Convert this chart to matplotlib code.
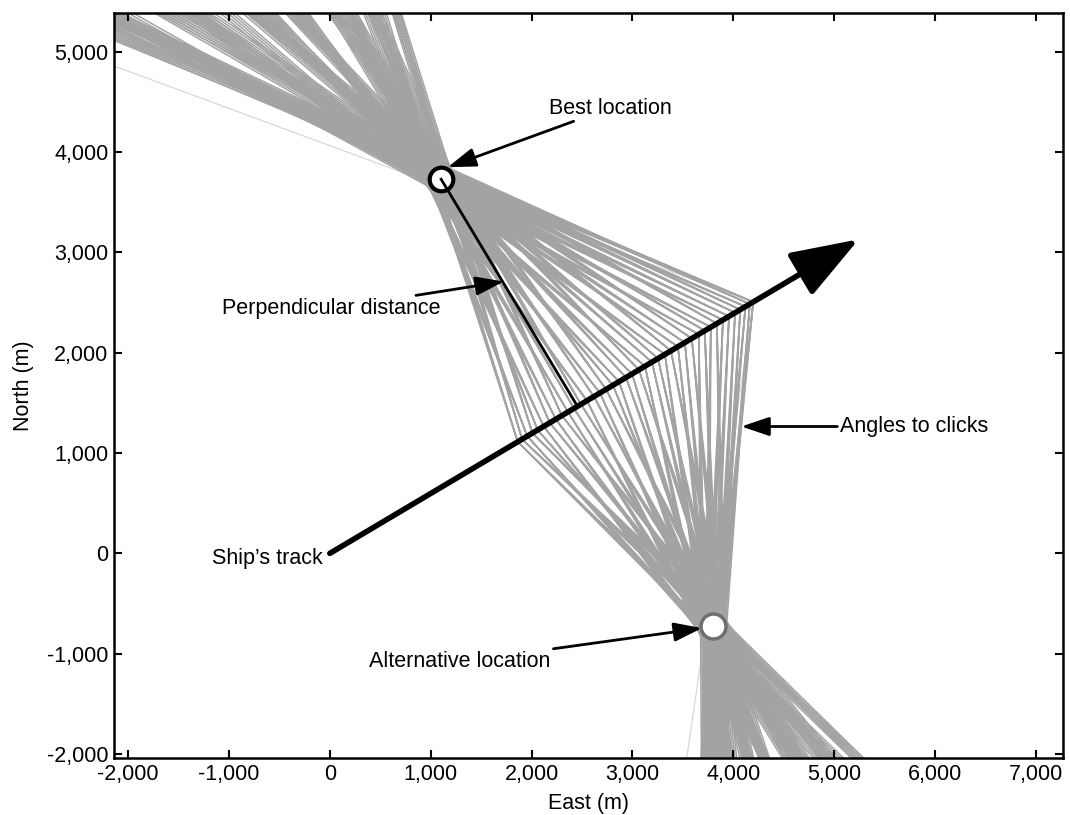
import numpy as np
import matplotlib.pyplot as plt
from matplotlib.ticker import FuncFormatter

plt.rcParams['font.family'] = ['Liberation Sans', 'DejaVu Sans']

# ---------------------------------------------------------------------------
# Data (metres)
# ---------------------------------------------------------------------------
track_start = (0, 0)
track_end = (5244, 3131)
best_loc = (1104, 3730)
alt_loc = (3800, -728)

# along-track distance of each click detection
click_s = [2170, 2220, 2280, 2340, 2400, 2470, 2540, 2610, 2680, 2750,
           2820, 2900, 2970, 3050, 3120, 3190, 3270, 3340, 3420, 3490,
           3570, 3640, 3720, 3790, 3870, 3940, 4020, 4100, 4180, 4260,
           4330, 4400, 4470, 4540, 4610, 4680, 4740, 4800, 4850, 4890]
# bearing miss distance at the location (m)
click_miss = [60, -40, 100, -90, 20, 120, -30, 50, -110, 80,
              0, -70, 130, -40, 70, -120, 20, 100, -20, 40,
              -90, 110, 0, -50, 90, -110, 40, 10, -70, 100,
              -30, 60, -100, 30, -10, -60, -90, -40, -110, -70]
bundle_offsets = [-24, -12, 0, 12, 24]

# one stray bearing
stray_s = 4890
stray_miss = 70

# ---------------------------------------------------------------------------
# Geometry
# ---------------------------------------------------------------------------
t0 = np.array(track_start, float)
t1 = np.array(track_end, float)
u = (t1 - t0) / np.linalg.norm(t1 - t0)


def bearing_line(s, target, miss, length=4.0):
    p = t0 + s * u
    tgt = np.array(target, float)
    d = tgt - p
    d /= np.linalg.norm(d)
    perp = np.array([-d[1], d[0]])
    aim = tgt + miss * perp
    end = p + (aim - p) * length
    return [p[0], end[0]], [p[1], end[1]]


fig = plt.figure(figsize=(10.7, 8.15), dpi=100)
ax = fig.add_axes([0.1065, 0.0699, 0.887, 0.9145])

gray = '#a3a3a3'
for s, m in zip(click_s, click_miss):
    for off in bundle_offsets:
        xs, ys = bearing_line(s, best_loc, m + off)
        ax.plot(xs, ys, color=gray, lw=1.1, zorder=1, solid_capstyle='butt')
        xs, ys = bearing_line(s, alt_loc, -m - off)
        ax.plot(xs, ys, color=gray, lw=1.1, zorder=1, solid_capstyle='butt')

for tgt, m in ((best_loc, stray_miss), (alt_loc, -stray_miss)):
    xs, ys = bearing_line(stray_s, tgt, m)
    ax.plot(xs, ys, color='#d4d4d4', lw=0.8, zorder=0.5)

# ship's track
ax.annotate('', xy=track_end, xytext=track_start,
            arrowprops=dict(arrowstyle='-|>,head_length=2.1,head_width=0.75',
                            mutation_scale=20, lw=4, color='black',
                            shrinkA=0, shrinkB=0),
            zorder=4)

# perpendicular distance from best location to the track
b = np.array(best_loc, float)
foot = t0 + np.dot(b - t0, u) * u
ax.plot([b[0], foot[0]], [b[1], foot[1]], color='black', lw=2, zorder=6)

ax.plot(*best_loc, 'o', ms=17, mfc='white', mec='black', mew=3, zorder=5)
ax.plot(*alt_loc, 'o', ms=18, mfc='white', mec='#6e6e6e', mew=2.5, zorder=5)

# labels
arrow_kw = dict(arrowstyle='-|>,head_length=0.95,head_width=0.32',
                mutation_scale=18, lw=2, color='black', shrinkA=0, shrinkB=0)
fs = 15.5
ax.annotate('Best location', xy=(1170, 3850), xytext=(2170, 4440),
            ha='left', va='center', fontsize=fs, arrowprops=arrow_kw, zorder=7)
ax.annotate('Perpendicular distance', xy=(1725, 2710), xytext=(1100, 2440),
            ha='right', va='center', fontsize=fs, arrowprops=arrow_kw, zorder=7)
ax.annotate('Angles to clicks', xy=(4080, 1265), xytext=(5060, 1265),
            ha='left', va='center', fontsize=fs, arrowprops=arrow_kw, zorder=7)
ax.annotate('Alternative location', xy=(3690, -745), xytext=(2190, -1080),
            ha='right', va='center', fontsize=fs, arrowprops=arrow_kw, zorder=7)
ax.text(-70, -50, 'Ship\u2019s track', ha='right', va='center', fontsize=fs)

ax.set_xlim(-2140, 7270)
ax.set_ylim(-2040, 5390)
ax.set_xticks(range(-2000, 7001, 1000))
ax.set_yticks(range(-2000, 5001, 1000))
fmt = FuncFormatter(lambda v, pos: f'{int(v):,}')
ax.xaxis.set_major_formatter(fmt)
ax.yaxis.set_major_formatter(fmt)
ax.tick_params(direction='in', top=True, right=True, length=6, width=1.5,
               labelsize=fs, pad=4)
for sp in ax.spines.values():
    sp.set_linewidth(1.8)

ax.set_xlabel('East (m)', fontsize=fs, labelpad=6)
ax.set_ylabel('North (m)', fontsize=fs, labelpad=9)

fig.savefig('out.png', dpi=100)
